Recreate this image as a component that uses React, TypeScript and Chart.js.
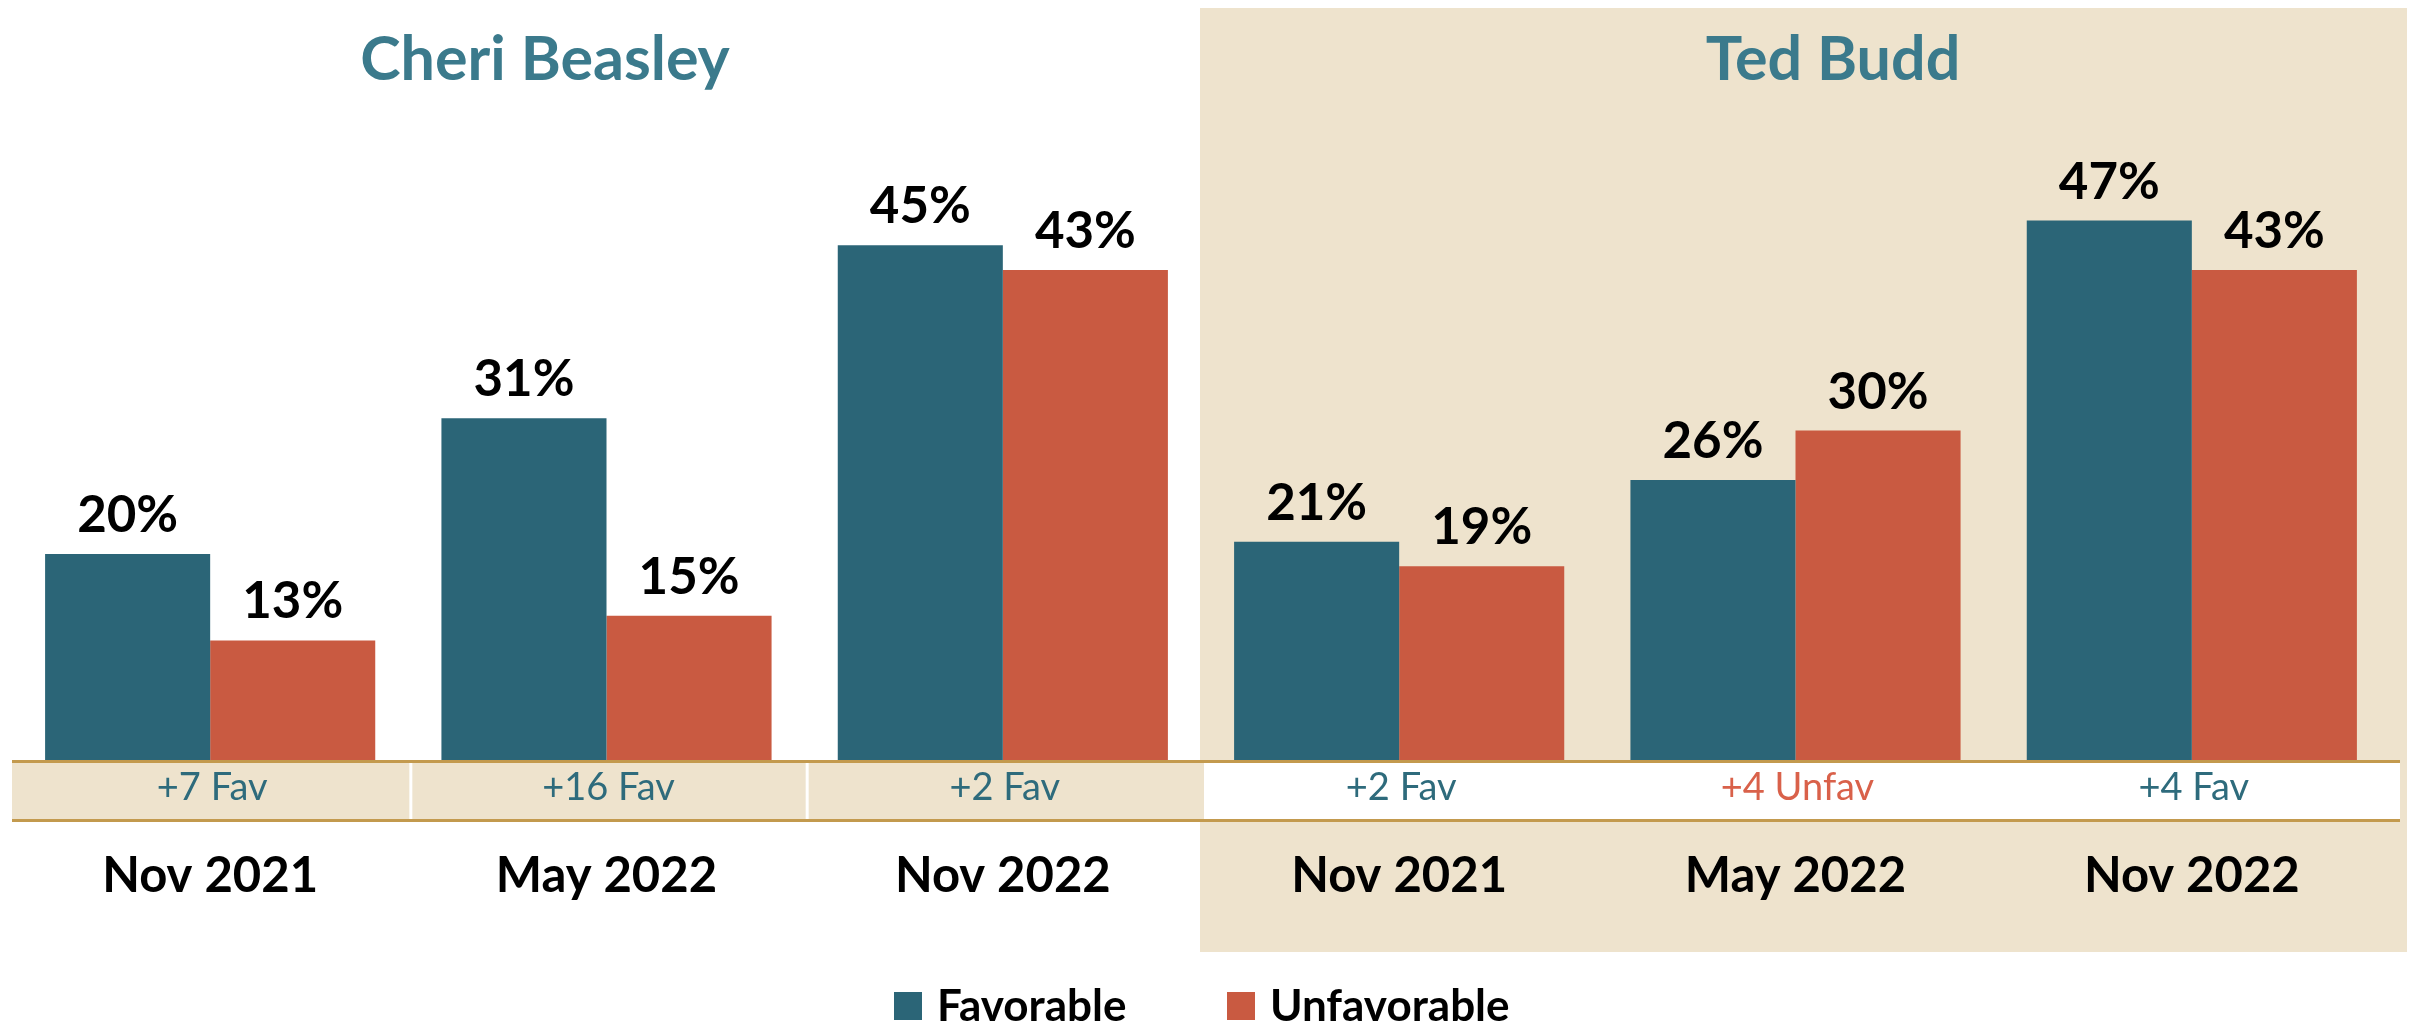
import React, { useEffect, useRef } from "react";
import { Chart, registerables } from "chart.js";

Chart.register(...registerables);

const categories = ["Nov 2021", "May 2022", "Nov 2022", "Nov 2021", "May 2022", "Nov 2022"];
const candidates = ["Cheri Beasley", "Ted Budd"];
const seriesNames = ["Favorable", "Unfavorable"];
const favorable = [20, 31, 45, 21, 26, 47];
const unfavorable = [13, 15, 43, 19, 30, 43];
const marginLabels = ["+7 Fav", "+16 Fav", "+2 Fav", "+2 Fav", "+4 Unfav", "+4 Fav"];
const marginIsFav = [true, true, true, true, false, true];

const BLUE = "#2B6577";
const RED = "#C95A41";
const BEIGE = "#EEE3CD";
const TAN = "#C39A4E";
const TITLE = "#3B7A8C";
const BAND_BLUE = "#2E6B7C";
const BAND_RED = "#D9614A";
const FONT = "Lato, 'Open Sans', sans-serif";

const W = 2419;
const H = 1026;

const decorPlugin = {
  id: "decor",
  beforeDraw(chart: any) {
    const { ctx, chartArea } = chart;
    const step = (chartArea.right - chartArea.left) / categories.length;
    ctx.save();
    ctx.fillStyle = "#ffffff";
    ctx.fillRect(0, 0, W, H);
    const panelLeft = chartArea.left + step * 3 - 1;
    ctx.fillStyle = BEIGE;
    ctx.fillRect(panelLeft, 8, chartArea.right + 17 - panelLeft, 944);
    ctx.restore();
  },
  afterDatasetsDraw(chart: any) {
    const { ctx, chartArea } = chart;
    const xs = chart.scales.x;
    const step = (chartArea.right - chartArea.left) / categories.length;
    const split = chartArea.left + step * 3 + 3;
    const bandTop = 761.5;
    const bandBottom = 820.5;
    const bandRight = chartArea.right + 10;
    ctx.save();
    // band fills
    ctx.fillStyle = BEIGE;
    ctx.fillRect(chartArea.left, bandTop, split - chartArea.left, bandBottom - bandTop);
    ctx.fillStyle = "#ffffff";
    ctx.fillRect(split, bandTop, bandRight - split, bandBottom - bandTop);
    // separators
    ctx.strokeStyle = "#ffffff";
    ctx.lineWidth = 3;
    for (let i = 1; i < 3; i++) {
      const x = chartArea.left + step * i + 2.5;
      ctx.beginPath();
      ctx.moveTo(x, bandTop);
      ctx.lineTo(x, bandBottom);
      ctx.stroke();
    }
    // band lines
    ctx.strokeStyle = TAN;
    ctx.lineWidth = 3;
    ctx.beginPath();
    ctx.moveTo(chartArea.left, bandTop);
    ctx.lineTo(bandRight, bandTop);
    ctx.moveTo(chartArea.left, bandBottom);
    ctx.lineTo(bandRight, bandBottom);
    ctx.stroke();

    // band texts
    ctx.textAlign = "center";
    ctx.textBaseline = "alphabetic";
    ctx.font = `38px ${FONT}`;
    marginLabels.forEach((t, i) => {
      ctx.fillStyle = marginIsFav[i] ? BAND_BLUE : BAND_RED;
      ctx.fillText(t, xs.getPixelForValue(i) + 2, 800);
    });

    // category labels
    ctx.fillStyle = "#000000";
    ctx.font = `bold 49px ${FONT}`;
    categories.forEach((c, i) => {
      ctx.fillText(c, xs.getPixelForValue(i), 892);
    });

    // data labels
    ctx.font = `bold 51px ${FONT}`;
    chart.data.datasets.forEach((ds: any, di: number) => {
      const meta = chart.getDatasetMeta(di);
      meta.data.forEach((bar: any, i: number) => {
        ctx.fillText(`${ds.data[i]}%`, bar.x, bar.y - 22);
      });
    });

    // titles
    ctx.fillStyle = TITLE;
    ctx.font = `bold 61px ${FONT}`;
    ctx.fillText(candidates[0], 545, 80);
    ctx.fillText(candidates[1], 1833, 80);

    // legend
    const colors = [BLUE, RED];
    const boxX = [894, 1227];
    ctx.font = `bold 44px ${FONT}`;
    ctx.textAlign = "left";
    const box = 28;
    seriesNames.forEach((s, i) => {
      ctx.fillStyle = colors[i];
      ctx.fillRect(boxX[i], 992, box, box);
      ctx.fillStyle = "#000000";
      ctx.fillText(s, boxX[i] + box + 15, 1021);
    });
    ctx.restore();
  },
};

export default function App() {
  const ref = useRef<HTMLCanvasElement | null>(null);
  useEffect(() => {
    document.body.style.margin = "0";
    const canvas = ref.current;
    if (!canvas) return;
    const chart = new Chart(canvas, {
      type: "bar",
      data: {
        labels: categories,
        datasets: [
          {
            label: seriesNames[0],
            data: favorable,
            backgroundColor: BLUE,
            borderWidth: 0,
            categoryPercentage: 0.833,
            barPercentage: 1,
          },
          {
            label: seriesNames[1],
            data: unfavorable,
            backgroundColor: RED,
            borderWidth: 0,
            categoryPercentage: 0.833,
            barPercentage: 1,
          },
        ],
      },
      options: {
        animation: false,
        responsive: false,
        devicePixelRatio: 1,
        layout: { padding: { left: 12, right: 29, top: 60, bottom: 225 } },
        plugins: {
          legend: { display: false },
          tooltip: { enabled: false },
        },
        scales: {
          x: { display: false },
          y: { display: false, min: 0, max: 60 },
        },
      },
      plugins: [decorPlugin],
    });
    return () => chart.destroy();
  }, []);
  return (
    <div style={{ position: "absolute", left: 0, top: 0, width: W, height: H }}>
      <canvas ref={ref} width={W} height={H} style={{ width: W, height: H, display: "block" }} />
    </div>
  );
}
